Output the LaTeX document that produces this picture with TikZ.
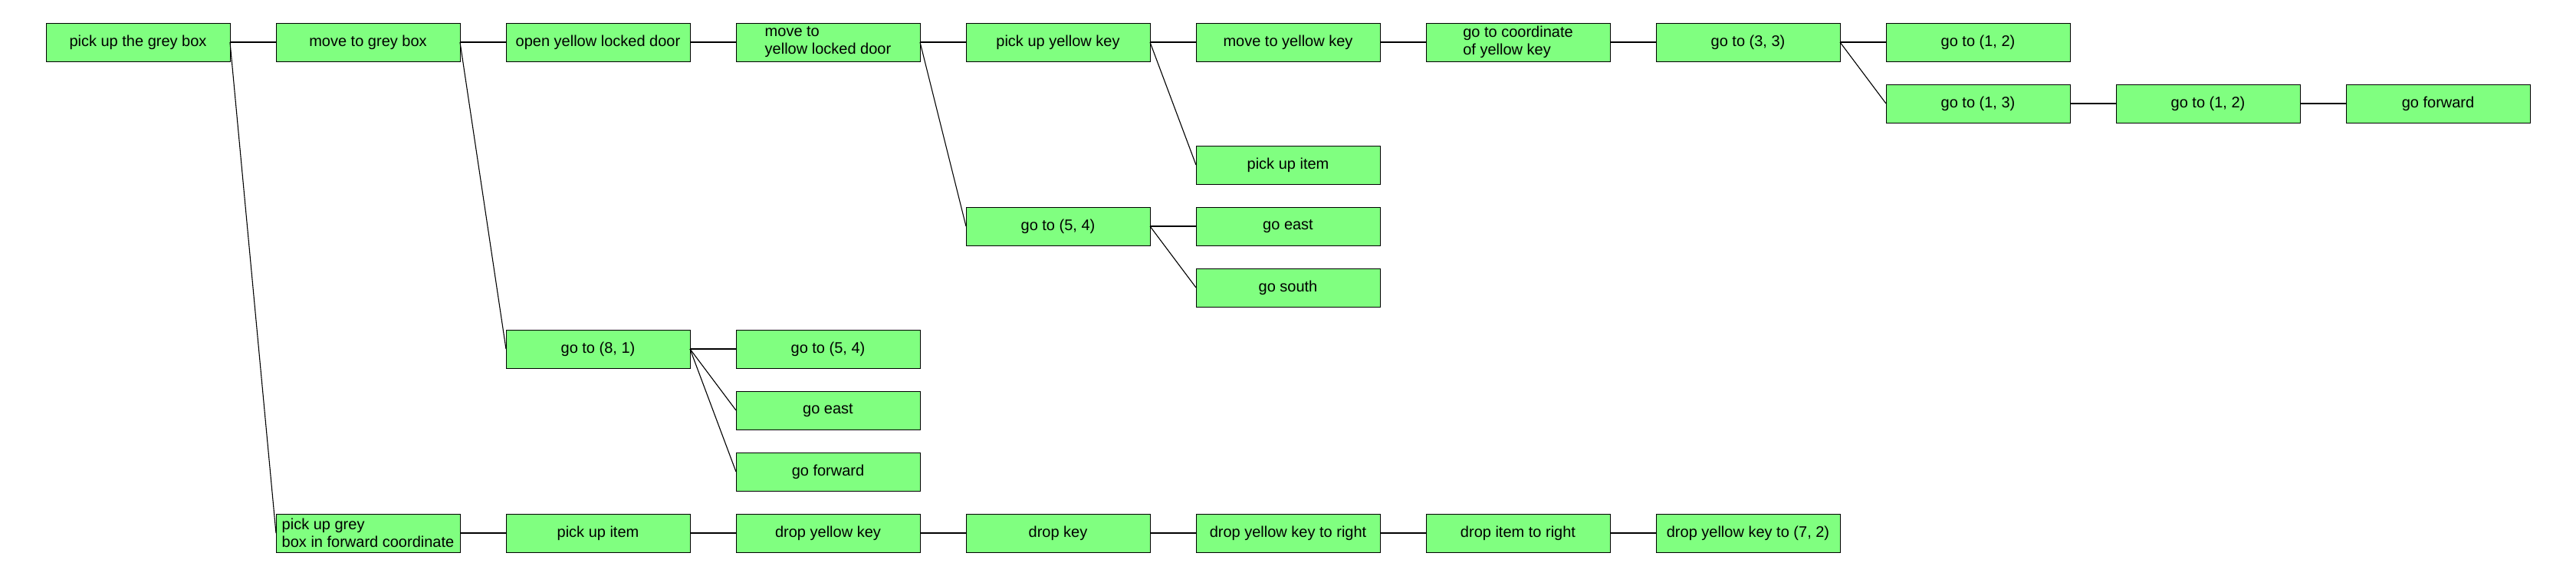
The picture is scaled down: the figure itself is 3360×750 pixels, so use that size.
\documentclass[tikz,border=0pt]{standalone}
\usepackage{fontspec}
\setmainfont{Liberation Sans}
\begin{document}
\begin{tikzpicture}[x=0.5pt,y=-0.5pt,
  box/.style={draw=black,line width=0.5pt,fill={rgb,255:red,128;green,255;blue,128},
    minimum width=120pt,minimum height=25pt,inner sep=0pt,outer sep=0pt,
    font=\fontsize{10}{11.5}\selectfont,align=left},
  link/.style={draw=black,line width=0.55pt}]
\useasboundingbox[fill=white] (0,0) rectangle (3360,750);
% row 0
\node[box] (a0) at (180,55) {pick up the grey box};
\node[box] (a1) at (480,55) {move to grey box};
\node[box] (a2) at (780,55) {open yellow locked door};
\node[box] (a3) at (1080,55) {move to\\yellow locked door};
\node[box] (a4) at (1380,55) {pick up yellow key};
\node[box] (a5) at (1680,55) {move to yellow key};
\node[box] (a6) at (1980,55) {go to coordinate\\of yellow key};
\node[box] (a7) at (2280,55) {go to (3, 3)};
\node[box] (a8) at (2580,55) {go to (1, 2)};
% row 1
\node[box] (b8) at (2580,135) {go to (1, 3)};
\node[box] (b9) at (2880,135) {go to (1, 2)};
\node[box] (b10) at (3180,135) {go forward};
% row 2
\node[box] (c5) at (1680,215) {pick up item};
% row 3
\node[box] (d4) at (1380,295) {go to (5, 4)};
\node[box] (d5) at (1680,295) {go east};
% row 4
\node[box] (e5) at (1680,375) {go south};
% row 5
\node[box] (f2) at (780,455) {go to (8, 1)};
\node[box] (f3) at (1080,455) {go to (5, 4)};
% row 6
\node[box] (g3) at (1080,535) {go east};
% row 7
\node[box] (h3) at (1080,615) {go forward};
% row 8
\node[box] (i1) at (480,695) {pick up grey\\box in forward coordinate};
\node[box] (i2) at (780,695) {pick up item};
\node[box] (i3) at (1080,695) {drop yellow key};
\node[box] (i4) at (1380,695) {drop key};
\node[box] (i5) at (1680,695) {drop yellow key to right};
\node[box] (i6) at (1980,695) {drop item to right};
\node[box] (i7) at (2280,695) {drop yellow key to (7, 2)};
% connectors
\foreach \p/\c in {a0/a1,a1/a2,a2/a3,a3/a4,a4/a5,a5/a6,a6/a7,a7/a8,a7/b8,b8/b9,b9/b10,
  a4/c5,a3/d4,d4/d5,d4/e5,a1/f2,f2/f3,f2/g3,f2/h3,a0/i1,i1/i2,i2/i3,i3/i4,i4/i5,i5/i6,i6/i7}
  \draw[link] (\p.east) -- (\c.west);
\end{tikzpicture}
\end{document}
